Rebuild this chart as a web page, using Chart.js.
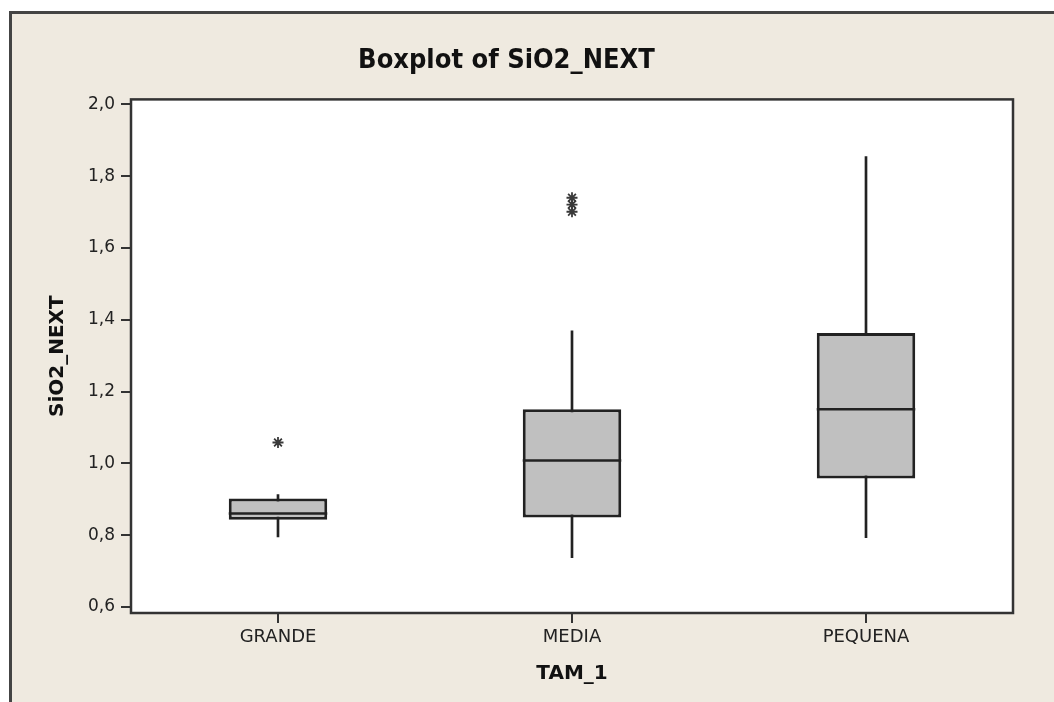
<!DOCTYPE html>
<html lang="es">
<head>
    <meta charset="UTF-8">
    <title>Boxplot of SiO2_NEXT</title>
    <script src="https://cdn.jsdelivr.net/npm/chart.js"></script>
    <style>
        html, body { margin: 0; padding: 0; width: 1054px; height: 702px; overflow: hidden; background: #fff; }
        #frame { position: absolute; left: 9px; top: 11px; width: 1100px; height: 760px; border: 3px solid #444; background: #EFEAE0; }
        #boxChart { position: absolute; left: 0; top: 0; }
    </style>
</head>
<body>
    <div id="frame"></div>
    <canvas id="boxChart" width="1054" height="702"></canvas>
    <script>
        // values
        const groups = ['GRANDE', 'MEDIA', 'PEQUENA'];
        const whiskerLow  = [0.795, 0.737, 0.793];
        const whiskerHigh = [0.913, 1.369, 1.855];
        const q1          = [0.843, 0.849, 0.958];
        const median      = [0.860, 1.008, 1.151];
        const q3          = [0.902, 1.151, 1.363];
        const outlierGroup = ['GRANDE', 'MEDIA', 'MEDIA', 'MEDIA'];
        const outlierValue = [1.058, 1.740, 1.721, 1.701];
        const yTicks = [0.6, 0.8, 1.0, 1.2, 1.4, 1.6, 1.8, 2.0];

        const ink = '#222222';

        // white plot area, median lines and the closed frame round the plot
        const boxExtras = {
            id: 'boxExtras',
            beforeDatasetsDraw(chart) {
                const a = chart.chartArea;
                const c = chart.ctx;
                c.save();
                c.fillStyle = '#ffffff';
                c.fillRect(a.left, a.top, a.right - a.left, a.bottom - a.top);
                c.restore();
            },
            afterDatasetsDraw(chart) {
                const c = chart.ctx;
                const y = chart.scales.y;
                const meta = chart.getDatasetMeta(1);
                c.save();
                c.strokeStyle = ink;
                c.lineWidth = 2.5;
                meta.data.forEach((bar, i) => {
                    const py = y.getPixelForValue(median[i]);
                    c.beginPath();
                    c.moveTo(bar.x - bar.width / 2, py);
                    c.lineTo(bar.x + bar.width / 2, py);
                    c.stroke();
                });
                const a = chart.chartArea;
                c.strokeStyle = '#333333';
                c.lineWidth = 2.5;
                c.strokeRect(a.left, a.top, a.right - a.left, a.bottom - a.top);
                c.restore();
            }
        };

        const ctx = document.getElementById('boxChart').getContext('2d');

        new Chart(ctx, {
            type: 'bar',
            data: {
                labels: groups,
                datasets: [
                    {
                        label: 'whisker',
                        data: groups.map((g, i) => [whiskerLow[i], whiskerHigh[i]]),
                        backgroundColor: ink,
                        barThickness: 2,
                        grouped: false,
                        order: 3
                    },
                    {
                        label: 'box',
                        data: groups.map((g, i) => [q1[i], q3[i]]),
                        backgroundColor: '#C0C0C0',
                        borderColor: ink,
                        borderWidth: 3,
                        borderSkipped: false,
                        categoryPercentage: 1,
                        barPercentage: 0.335,
                        grouped: false,
                        order: 2
                    },
                    {
                        type: 'line',
                        label: 'outliers',
                        data: outlierGroup.map((g, i) => ({x: g, y: outlierValue[i]})),
                        showLine: false,
                        pointStyle: 'star',
                        pointRadius: 5.5,
                        borderColor: '#3a3a3a',
                        borderWidth: 1.8,
                        order: 1
                    }
                ]
            },
            options: {
                responsive: false,
                animation: false,
                layout: { padding: { left: 0, right: 41, top: 0, bottom: 0 } },
                plugins: {
                    legend: { display: false },
                    tooltip: { enabled: false },
                    title: {
                        display: true,
                        text: 'Boxplot of SiO2_NEXT',
                        color: '#111',
                        font: { family: '"Liberation Sans Narrow", "DejaVu Sans Condensed", sans-serif', size: 27, weight: 'bold' },
                        padding: { top: 45, bottom: 22 }
                    }
                },
                scales: {
                    x: {
                        grid: { offset: false, drawOnChartArea: false, drawTicks: true, tickLength: 10, color: '#333', lineWidth: 2 },
                        border: { display: false },
                        ticks: { color: '#222', padding: 4, font: { family: '"DejaVu Sans", sans-serif', size: 18 } },
                        title: {
                            display: true,
                            text: 'TAM_1',
                            color: '#111',
                            font: { family: '"DejaVu Sans", sans-serif', size: 20, weight: 'bold' },
                            padding: { top: 0, bottom: 16 }
                        },
                        afterFit(scale) { scale.height = 89; }
                    },
                    y: {
                        min: 0.583,
                        max: 2.014,
                        afterBuildTicks(scale) { scale.ticks = yTicks.map(v => ({value: v})); },
                        grid: { drawOnChartArea: false, drawTicks: true, tickLength: 10, color: '#333', lineWidth: 2 },
                        border: { display: false },
                        ticks: {
                            color: '#222',
                            padding: 6,
                            font: { family: '"DejaVu Sans", sans-serif', size: 17 },
                            callback: v => v.toFixed(1).replace('.', ',')
                        },
                        title: {
                            display: true,
                            text: 'SiO2_NEXT',
                            color: '#111',
                            font: { family: '"DejaVu Sans", sans-serif', size: 20, weight: 'bold' },
                            padding: { top: 46, bottom: 0 }
                        },
                        afterFit(scale) { scale.width = 131; }
                    }
                }
            },
            plugins: [boxExtras]
        });
    </script>
</body>
</html>
